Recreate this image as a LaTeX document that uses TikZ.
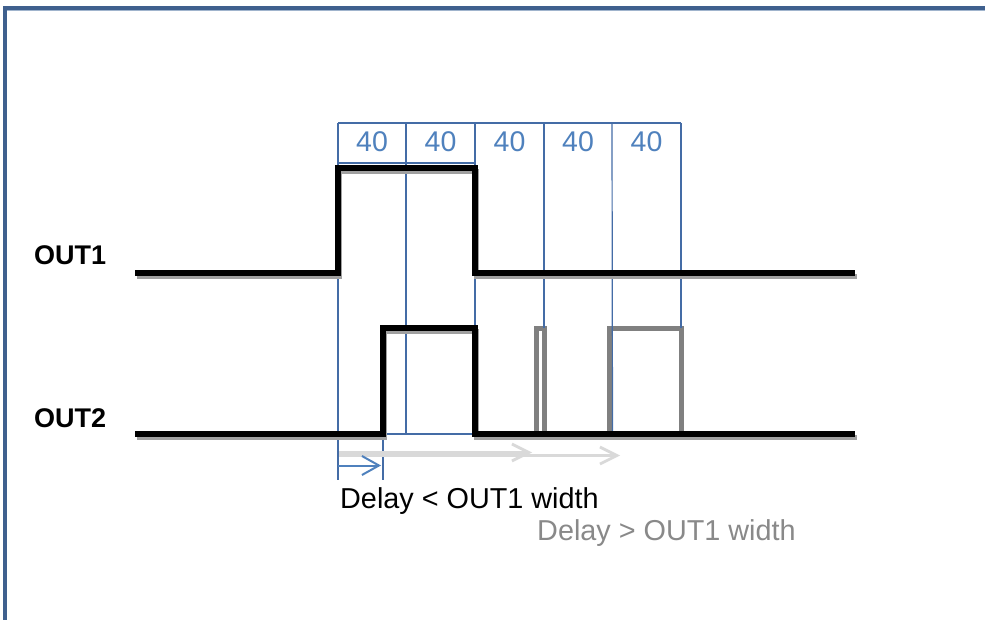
\documentclass[tikz,border=0pt]{standalone}
\usepackage{fontspec}
\setmainfont{Liberation Sans}
\usetikzlibrary{arrows.meta}
\definecolor{frameblue}{RGB}{63,96,142}
\definecolor{framelight}{RGB}{160,180,205}
\definecolor{gridblue}{RGB}{68,108,166}
\definecolor{txtblue}{RGB}{79,129,189}
\definecolor{shadowgray}{RGB}{160,160,160}
\definecolor{pulsegray}{RGB}{128,128,128}
\definecolor{arrowgray}{RGB}{217,217,217}
\definecolor{labelgray}{RGB}{137,137,137}
\tikzset{
  framebar/.style={fill=frameblue, draw=none},
  framehl/.style={fill=framelight, draw=none},
  gridline/.style={draw=gridblue, line width=1.2pt},
  sigline/.style={draw=black, line width=5.5pt, line join=miter},
  sigshadow/.style={draw=shadowgray, line width=5pt, line join=miter},
  ghostline/.style={draw=pulsegray, line width=5pt, line join=miter},
  delayarrow/.style={draw=txtblue, line width=2pt, -{Straight Barb[length=17pt,width=19pt]}},
  ghostarrow/.style={draw=arrowgray, line width=2.8pt, -{Straight Barb[length=17pt,width=17pt]}},
  sigtag/.style={font=\fontsize{27}{30}\selectfont\bfseries, anchor=base west, inner sep=0pt},
  cellnum/.style={font=\fontsize{28.5}{32}\selectfont, text=txtblue, anchor=base, inner sep=0pt},
  delaytxt/.style={font=\fontsize{28.8}{32}\selectfont, anchor=base west, inner sep=0pt}
}
\begin{document}
\begin{tikzpicture}[x=1pt,y=-1pt]
\useasboundingbox (0,0) rectangle (985,620);
% frame
\fill[framehl] (2.5,9.5) rectangle (985,11);
\fill[framebar] (2.5,6) rectangle (985,9.7);
\fill[framebar] (2.5,6) rectangle (6.5,620);

% key coordinates
\coordinate (g1) at (338,123);
\coordinate (g2) at (406,123);
\coordinate (g3) at (475,123);
\coordinate (g4) at (544,123);
\coordinate (g5) at (612,123);
\coordinate (g6) at (681,123);

% ghost (delay > width) pulses
\draw[ghostline] (536,434) -- (536,328) -- (544,328) -- (544,434);
\draw[ghostline] (609.5,434) -- (609.5,328) -- (681,328) -- (681,434);

% blue grid
\draw[gridline] (g1) -- (g6);
\draw[gridline] (338,163) -- (475,163);
\draw[gridline] (g1) -- (338,480);
\draw[gridline] (g2) -- (406,434);
\draw[gridline] (g3) -- (475,434);
\draw[gridline] (g4) -- (544,328);
\draw[gridline] (g5) -- (612.5,434);
\draw[gridline] (g6) -- (681,328);
\draw[gridline] (338,434) -- (475,434);
\draw[gridline] (383,434) -- (383,480);

% cell labels
\node[cellnum] (n1) at (372,151.7) {40};
\node[cellnum] (n2) at (440.5,151.7) {40};
\node[cellnum] (n3) at (509.5,151.7) {40};
\node[cellnum] (n4) at (578,151.7) {40};
\node[cellnum] (n5) at (646.5,151.7) {40};

% OUT1
\draw[sigshadow] (136.5,276.5) -- (339.5,276.5) -- (339.5,171.5) -- (476.5,171.5) -- (476.5,276.5) -- (856.5,276.5);
\draw[sigline] (135,273) -- (338,273) -- (338,168) -- (475,168) -- (475,273) -- (855,273);
% OUT2
\draw[sigshadow] (136.5,437.5) -- (384.5,437.5) -- (384.5,331.5) -- (476.5,331.5) -- (476.5,437.5) -- (856.5,437.5);
\draw[sigline] (135,434) -- (383,434) -- (383,328) -- (475,328) -- (475,434) -- (855,434);

% delay arrows
\coordinate (a0) at (339,452.5);
\coordinate (a1) at (532,452.5);
\coordinate (b0) at (339,455.5);
\coordinate (b1) at (620,455.5);
\draw[ghostarrow] (a0) -- (a1);
\draw[ghostarrow] (b0) -- (b1);
\coordinate (d0) at (338,465.5);
\coordinate (d1) at (381,465.5);
\draw[delayarrow] (d0) -- (d1);

% labels
\node[sigtag] (out1) at (34,265) {OUT1};
\node[sigtag] (out2) at (34,427) {OUT2};
\node[delaytxt] (dlt) at (340,508) {Delay < OUT1 width};
\node[delaytxt, text=labelgray] (dgt) at (537,540) {Delay > OUT1 width};
\end{tikzpicture}
\end{document}
